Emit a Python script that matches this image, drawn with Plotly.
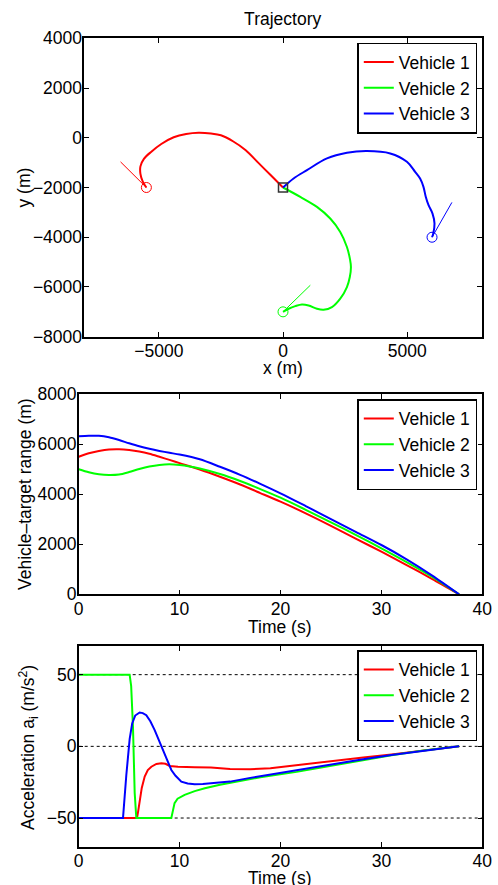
import plotly.graph_objects as go

# ---------------- data ----------------
names = ["Vehicle 1", "Vehicle 2", "Vehicle 3"]
colors = ["#ff0000", "#00ff00", "#0000ff"]

# Trajectories (m)
traj1_x = [-5500, -5650, -5740, -5740, -5600, -5300, -4900, -4400, -3900, -3400, -2900, -2500, -2000, -1500, -1000, -500, 0]
traj1_y = [-2000, -1750, -1450, -1150, -850, -560, -250, 20, 150, 200, 170, 100, -150, -500, -1000, -1500, -2000]
traj2_x = [0, 225, 495, 764, 1030, 1367, 1633, 1971, 2305, 2574, 2690, 2735, 2700, 2574, 2305, 1902, 1367, 696, 0]
traj2_y = [-7000, -6876, -6770, -6702, -6742, -6876, -6916, -6810, -6472, -6005, -5600, -5200, -4900, -4393, -3788, -3248, -2781, -2378, -2000]
traj3_x = [6000, 6050, 6100, 6020, 5860, 5750, 5655, 5520, 5320, 4989, 4318, 3379, 2574, 1770, 965, 426, 0]
traj3_y = [-4000, -3850, -3450, -3050, -2710, -2380, -1975, -1640, -1370, -967, -631, -537, -604, -830, -1302, -1636, -2000]

# initial heading segments (start -> tip)
head1_x = [-5500, -6540]
head1_y = [-2000, -970]
head2_x = [0, 1100]
head2_y = [-7000, -5930]
head3_x = [6000, 6800]
head3_y = [-4000, -2600]

target_x = [0]
target_y = [-2000]

# Vehicle-target range (m) vs time (s)
rng1_t = [0, 1, 2, 3, 4, 5, 6, 7, 8, 9, 10, 12, 14, 16, 18, 20, 22.5, 25, 27.5, 30, 32.5, 35, 37.7]
rng1_r = [5500, 5640, 5730, 5790, 5800, 5770, 5710, 5620, 5500, 5375, 5245, 4990, 4700, 4390, 4050, 3704, 3240, 2740, 2220, 1704, 1170, 620, 0]
rng2_t = [0, 1, 2, 3, 4, 5, 6, 7, 8, 9, 10, 11, 12, 14, 16, 18, 20, 22.5, 25, 27.5, 30, 32.5, 35, 37.7]
rng2_r = [5000, 4880, 4800, 4770, 4790, 4890, 5010, 5110, 5175, 5200, 5170, 5110, 5030, 4810, 4530, 4210, 3864, 3380, 2880, 2370, 1840, 1290, 710, 0]
rng3_t = [0, 1, 2, 3, 4, 5, 6, 7, 8, 9, 10, 12, 14, 16, 18, 20, 22.5, 25, 27.5, 30, 32.5, 35, 37.7]
rng3_r = [6325, 6345, 6340, 6280, 6170, 6040, 5920, 5820, 5735, 5660, 5590, 5400, 5100, 4780, 4420, 4040, 3530, 3010, 2490, 1972, 1400, 760, 0]

# Acceleration (m/s^2) vs time (s)
acc1_t = [0, 5.78, 5.9, 6.04, 6.25, 6.54, 6.85, 7.2, 7.7, 8.19, 8.6, 9.02, 9.4, 9.84, 11.5, 13.1, 15.0, 17.0, 19.0, 21.6, 25.0, 28.2, 31.0, 34.0, 37.7]
acc1_a = [-50, -50, -45, -37.3, -29, -21.1, -16.5, -14.2, -12.3, -11.8, -12.2, -13.7, -14.1, -14.2, -14.5, -14.8, -15.8, -16.0, -15.3, -13.0, -10.3, -7.7, -5.6, -3.3, 0]
acc2_t = [0, 5.05, 5.2, 5.38, 5.55, 5.71, 9.18, 9.3, 9.5, 9.8, 10.5, 11.5, 12.5, 14.0, 15.8, 18.0, 21.6, 25.0, 28.2, 31.0, 34.0, 37.7]
acc2_a = [50, 50, 42, 13.6, -32.6, -50, -50, -45, -39.6, -36.5, -33.8, -31.2, -29.2, -26.8, -24.6, -21.5, -17.8, -13.5, -9.3, -6.2, -3.1, 0]
acc3_t = [0, 4.39, 4.72, 5.05, 5.3, 5.6, 6.04, 6.35, 6.7, 7.1, 7.53, 7.95, 8.36, 8.8, 9.18, 9.6, 10.17, 10.8, 11.5, 12.3, 13.1, 15.0, 17.0, 19.0, 21.6, 25.0, 28.2, 31.0, 34.0, 37.7]
acc3_a = [-50, -50, -20, 5, 16, 21.5, 23.6, 23.2, 21.7, 17.5, 11.3, 4.5, -2.6, -10, -16.5, -20.5, -24.6, -25.9, -26.4, -26.3, -25.7, -24.6, -22, -19.6, -16.9, -12.9, -9.0, -6.0, -3.2, 0]

ref_levels = [50, 0, -50]

# tick values
traj_xticks = [-5000, 0, 5000]
traj_yticks = [-8000, -6000, -4000, -2000, 0, 2000, 4000]
time_ticks = [0, 10, 20, 30, 40]
range_ticks = [0, 2000, 4000, 6000, 8000]
acc_ticks = [-50, 0, 50]

# ---------------- figure ----------------
FONT = "Liberation Sans, Arial, Helvetica, sans-serif"
FS = 17.5
fig = go.Figure()

traj_x = [traj1_x, traj2_x, traj3_x]
traj_y = [traj1_y, traj2_y, traj3_y]
head_x = [head1_x, head2_x, head3_x]
head_y = [head1_y, head2_y, head3_y]
rng_t = [rng1_t, rng2_t, rng3_t]
rng_r = [rng1_r, rng2_r, rng3_r]
acc_t = [acc1_t, acc2_t, acc3_t]
acc_a = [acc1_a, acc2_a, acc3_a]

# Panel 1: trajectories
for i in range(3):
    fig.add_trace(go.Scatter(x=head_x[i], y=head_y[i], mode="lines",
                             line=dict(color=colors[i], width=1),
                             showlegend=False, xaxis="x", yaxis="y", hoverinfo="skip"))
    fig.add_trace(go.Scatter(x=[head_x[i][0]], y=[head_y[i][0]], mode="markers",
                             marker=dict(symbol="circle-open", size=10, color=colors[i], line=dict(width=1)),
                             showlegend=False, xaxis="x", yaxis="y", hoverinfo="skip"))
for i in range(3):
    fig.add_trace(go.Scatter(x=traj_x[i], y=traj_y[i], mode="lines", name=names[i],
                             line=dict(color=colors[i], width=2, shape="spline", smoothing=1.0),
                             xaxis="x", yaxis="y", legend="legend"))
fig.add_trace(go.Scatter(x=target_x, y=target_y, mode="markers",
                         marker=dict(symbol="square-open", size=9, color="#333333", line=dict(width=1.5)),
                         showlegend=False, xaxis="x", yaxis="y"))

# Panel 2: range
for i in range(3):
    fig.add_trace(go.Scatter(x=rng_t[i], y=rng_r[i], mode="lines", name=names[i],
                             line=dict(color=colors[i], width=2, shape="spline", smoothing=0.8),
                             xaxis="x2", yaxis="y2", legend="legend2"))

# Panel 3: acceleration
for lv in ref_levels:
    fig.add_shape(type="line", x0=0, x1=1, y0=lv, y1=lv, xref="x3 domain", yref="y3",
                  line=dict(color="black", width=1, dash="dot"), layer="below")
for i in range(3):
    fig.add_trace(go.Scatter(x=acc_t[i], y=acc_a[i], mode="lines", name=names[i],
                             line=dict(color=colors[i], width=2),
                             xaxis="x3", yaxis="y3", legend="legend3"))

W, H = 498, 885

def dx(px):
    return px / W

def dy(py):
    return 1 - py / H

axis_common = dict(showline=True, mirror="allticks", linecolor="black", linewidth=1.5,
                   ticks="inside", ticklen=5, tickwidth=1, tickcolor="black",
                   showgrid=False, zeroline=False, automargin=False,
                   tickfont=dict(family=FONT, size=FS, color="black"))
xcommon = dict(ticklabelstandoff=-2, **axis_common)
ycommon = dict(ticklabelstandoff=-3, **axis_common)

legend_common = dict(font=dict(family=FONT, size=FS, color="black"), bgcolor="white",
                     bordercolor="black", borderwidth=1.5, xanchor="right", yanchor="top",
                     x=dx(477.3), tracegroupgap=0)

# axis titles as annotations (pixel positions from the reference)
axis_titles = [
    ("x (m)", 282.7, 368, 0),
    ("y (m)", 23, 187.5, -90),
    ("Time (s)", 280, 626.7, 0),
    ("Vehicle–target range (m)", 25, 494, -90),
    ("Time (s)", 280, 878, 0),
    ("Acceleration a<sub>i</sub> (m/s<sup>2</sup>)", 28, 748, -90),
]
annotations = [dict(text=t, x=dx(px), y=dy(py), xref="paper", yref="paper", xanchor="center",
                    yanchor="middle", textangle=ang, showarrow=False,
                    font=dict(family=FONT, size=FS, color="black"))
               for t, px, py, ang in axis_titles]

fig.update_layout(
    width=W, height=H,
    margin=dict(l=0, r=0, t=0, b=0),
    paper_bgcolor="white", plot_bgcolor="white",
    font=dict(family=FONT, size=FS, color="black"),
    title=dict(text="Trajectory", x=dx(282.7), xanchor="center", y=dy(19), yanchor="middle",
               font=dict(family=FONT, size=FS, color="black")),
    xaxis=dict(domain=[dx(84.3), dx(481.7)], range=[-8000, 8000], tickvals=traj_xticks,
               anchor="y", **xcommon),
    yaxis=dict(domain=[dy(336.7), dy(38.3)], range=[-8000, 4000], tickvals=traj_yticks,
               anchor="x", **ycommon),
    xaxis2=dict(domain=[dx(78.7), dx(482.3)], range=[0, 40], tickvals=time_ticks,
                anchor="y2", **xcommon),
    yaxis2=dict(domain=[dy(594.3), dy(394.3)], range=[0, 8000], tickvals=range_ticks,
                anchor="x2", **ycommon),
    xaxis3=dict(domain=[dx(78.7), dx(482.3)], range=[0, 40], tickvals=time_ticks,
                anchor="y3", **xcommon),
    yaxis3=dict(domain=[dy(846.7), dy(646)], range=[-70, 70], tickvals=acc_ticks,
                anchor="x3", **ycommon),
    legend=dict(y=dy(42.7), **legend_common),
    legend2=dict(y=dy(399), **legend_common),
    legend3=dict(y=dy(650), **legend_common),
    annotations=annotations,
)

fig.write_html("out.html", config={"displayModeBar": False},
               post_script="document.body.style.margin='0px';")
